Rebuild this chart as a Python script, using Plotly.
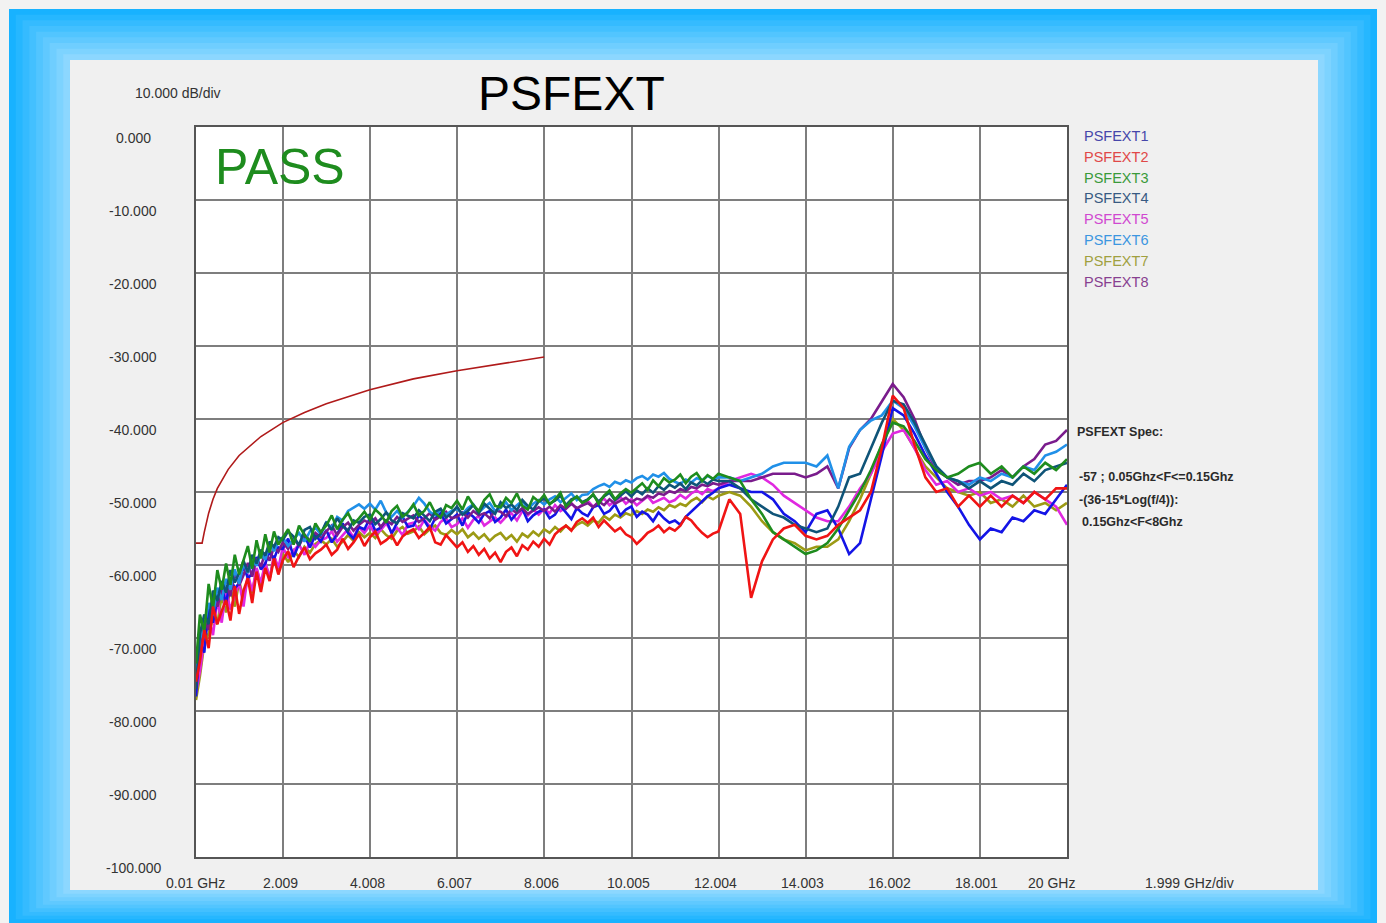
import plotly.graph_objects as go

# ---------------- data ----------------
freq_ghz = [0.01, 0.1, 0.2, 0.3, 0.4, 0.5, 0.6, 0.7, 0.8, 0.9,
            1.0, 1.1, 1.2, 1.3, 1.4, 1.5, 1.6, 1.7, 1.8, 1.9,
            2.0, 2.125, 2.25, 2.375, 2.5, 2.625, 2.75, 2.875,
            3.0, 3.125, 3.25, 3.375, 3.5, 3.625, 3.75, 3.875,
            4.0, 4.125, 4.25, 4.375, 4.5, 4.625, 4.75, 4.875,
            5.0, 5.125, 5.25, 5.375, 5.5, 5.625, 5.75, 5.875,
            6.0, 6.125, 6.25, 6.375, 6.5, 6.625, 6.75, 6.875,
            7.0, 7.125, 7.25, 7.375, 7.5, 7.625, 7.75, 7.875,
            8.0, 8.125, 8.25, 8.375, 8.5, 8.625, 8.75, 8.875,
            9.0, 9.125, 9.25, 9.375, 9.5, 9.625, 9.75, 9.875,
            10.0, 10.125, 10.25, 10.375, 10.5, 10.625, 10.75, 10.875,
            11.0, 11.125, 11.25, 11.375, 11.5, 11.625, 11.75, 11.875,
            12.0,
            12.25, 12.5, 12.75,
            13.0, 13.25, 13.5, 13.75, 14.0, 14.25, 14.5, 14.75,
            15.0, 15.25, 15.5, 15.75, 16.0, 16.25, 16.5, 16.75,
            17.0, 17.25, 17.5, 17.75, 18.0, 18.25, 18.5, 18.75,
            19.0, 19.25, 19.5, 19.75, 20.0]

# PSFEXT1 (blue)
psfext1 = ([-78, -70.5, -72.0, -65.8, -67.9, -64.6, -62.9, -65.4, -61.7, -63.2,
            -62.5, -60.1, -61.8, -61.2, -58.9, -60.6, -59.8, -58.1, -59.2, -57.6]
           + [-57.8, -56.4, -58.9, -57.1, -56.0, -57.6, -55.9, -56.8,
              -55.2, -56.9, -55.8, -54.3, -55.6, -56.4, -54.8, -55.1,
              -53.6, -55.3, -54.9, -53.8, -55.7, -54.2, -53.4, -54.8,
              -54.6, -53.2, -53.9, -55.1, -53.6, -52.9, -54.3, -53.7,
              -53.1, -54.6, -52.8, -53.4, -54.2, -53.0, -52.6, -54.1,
              -53.5, -52.4, -53.8, -52.9, -52.3, -54.0, -53.2, -52.7,
              -52.4, -53.6, -53.1, -51.9, -52.8, -53.7, -52.2, -52.9,
              -53.3, -52.1, -51.8, -53.0, -52.6, -51.7, -53.2, -52.4,
              -52.0, -53.4, -52.7, -53.1, -54.0, -52.8, -53.6, -54.2,
              -53.9, -54.5, -53.4, -52.7, -52.0, -51.2, -50.6, -50.1,
              -49.5]
           + [-49, -49.5, -50,
              -50, -51, -53, -54, -55.5, -53, -52.5, -55,
              -58.5, -57, -51, -45, -38.5, -39.5, -42, -45,
              -47.5, -50, -52, -54.5, -56.5, -55, -55.5, -53.5,
              -54, -52.5, -53, -51, -49])

# PSFEXT2 (red)
psfext2 = ([-76, -73.2, -68.9, -71.4, -65.7, -68.1, -66.3, -64.8, -67.6, -62.9,
            -66.7, -63.5, -61.8, -65.2, -60.9, -63.7, -60.4, -62.2, -59.1, -61.3]
           + [-59.4, -58.1, -60.3, -58.8, -57.6, -59.2, -58.4, -57.9,
              -57.2, -58.6, -57.9, -56.4, -57.8, -56.9, -55.8, -57.4,
              -56.2, -55.4, -57.1, -56.6, -55.9, -57.3, -56.1, -55.5,
              -55.1, -56.3, -55.6, -54.8, -56.9, -57.2, -55.9, -56.8,
              -57.6, -56.9, -58.2, -57.4, -58.6, -57.8, -59.1, -58.3,
              -59.6, -58.2, -57.6, -58.8, -57.3, -57.9, -56.8, -57.5,
              -56.4, -57.2, -55.8, -55.1, -54.6, -55.3, -54.1, -53.6,
              -54.2, -53.5, -54.8, -53.9, -54.6, -55.4, -54.9, -55.8,
              -56.2, -57.1, -56.4, -55.6, -55.2, -54.6, -55.5, -54.9,
              -55.3, -54.6, -53.4, -53.9, -54.8, -55.6, -56.2, -55.7,
              -55.4]
           + [-51, -53, -64.5,
              -59.5, -56.5, -55, -54.5, -56, -56.5, -56, -54.5,
              -53.5, -52.5, -50, -44, -36.8, -38.5, -43.5, -48,
              -50, -49.5, -52, -50.5, -52, -50.5, -52, -50.5,
              -51.5, -50, -51, -49.5, -49.5])

# PSFEXT3 (green)
psfext3 = ([-73.5, -66.8, -69.2, -62.6, -65.9, -60.7, -63.4, -59.8, -62.7, -58.6,
            -61.3, -59.2, -57.4, -60.5, -56.6, -59.1, -55.8, -58.3, -55.4, -57.2]
           + [-56.3, -55.1, -57.2, -54.6, -55.9, -56.8, -54.3, -55.5,
              -54.6, -53.2, -55.1, -53.8, -52.9, -54.4, -53.6, -52.7,
              -53.8, -52.4, -53.1, -54.2, -52.6, -51.9, -53.4, -52.8,
              -51.7, -53.2, -52.6, -51.4, -52.9, -53.5, -51.8, -52.2,
              -51.2, -52.4, -50.6, -51.8, -52.6, -51.1, -50.3, -51.9,
              -52.1, -50.8, -51.5, -50.2, -51.9, -52.4, -50.7, -51.3,
              -50.4, -51.7, -51.0, -50.1, -52.0, -51.2, -50.6, -51.5,
              -51.1, -50.3, -51.6, -50.5, -49.8, -51.0, -50.2, -49.6,
              -50.1, -49.4, -48.8, -49.7, -48.4, -49.2, -48.1, -48.7,
              -48.3, -47.6, -48.8, -47.9, -47.4, -48.5, -47.7, -48.2,
              -47.5]
           + [-48, -48.5, -51,
              -53, -55.5, -56.5, -57.5, -58.5, -58, -57, -55,
              -52.5, -50, -47, -43.5, -40.5, -41, -43, -45.5,
              -47, -48, -47.5, -46.5, -46, -47.5, -46.5, -48,
              -46.5, -47.5, -46, -47, -45.5])

# PSFEXT4 (dark teal)
psfext4 = ([-77, -69.4, -66.8, -68.1, -63.5, -64.9, -62.2, -63.8, -60.7, -62.4,
            -61.1, -59.4, -61.0, -58.6, -59.8, -57.9, -58.7, -56.8, -57.5, -56.2]
           + [-56.6, -55.4, -56.1, -57.3, -55.2, -54.8, -56.4, -55.7,
              -54.1, -55.2, -53.6, -54.7, -55.3, -53.9, -54.2, -53.4,
              -53.1, -54.4, -53.7, -52.8, -53.9, -54.3, -52.9, -53.3,
              -53.6, -52.5, -53.2, -54.0, -52.7, -52.3, -53.5, -52.9,
              -52.0, -53.1, -52.6, -51.8, -52.9, -51.6, -52.3, -53.0,
              -51.4, -52.2, -51.7, -52.5, -51.1, -51.9, -52.4, -51.3,
              -50.9, -51.6, -51.2, -50.5, -51.8, -51.0, -50.7, -51.4,
              -51.0, -50.4, -51.3, -50.6, -50.1, -51.1, -50.5, -49.9,
              -50.6, -49.8, -50.3, -49.5, -50.1, -49.2, -49.7, -49.0,
              -49.4, -48.8, -49.6, -48.7, -49.1, -48.4, -48.9, -48.3,
              -48.5]
           + [-48.5, -49.5, -51,
              -52, -53, -53.5, -54.5, -55, -55.5, -55, -52,
              -48, -47.5, -44, -40.5, -37.5, -38, -40.5, -43.5,
              -46.5, -48, -48.5, -49.5, -48.5, -49.5, -48.5, -49,
              -47.5, -48.5, -47, -46.5, -46])

# PSFEXT5 (magenta)
psfext5 = ([-77.5, -74.6, -70.3, -67.2, -69.6, -64.8, -67.9, -63.4, -66.1, -64.2,
            -62.3, -65.7, -61.2, -63.6, -60.4, -62.5, -59.6, -61.8, -58.7, -60.4]
           + [-57.6, -58.9, -58.1, -57.2, -58.6, -56.8, -57.5, -56.6,
              -56.3, -55.4, -56.8, -55.9, -55.1, -56.2, -54.8, -55.6,
              -54.6, -55.8, -55.2, -54.3, -55.5, -54.9, -55.9, -54.4,
              -54.2, -55.1, -53.8, -54.7, -55.3, -54.1, -53.6, -54.8,
              -54.4, -53.6, -54.9, -53.8, -53.3, -54.6, -54.1, -53.5,
              -54.2, -53.4, -52.9, -53.9, -52.6, -53.2, -52.4, -53.1,
              -52.3, -52.9, -51.8, -52.6, -52.1, -51.5, -52.4, -51.7,
              -51.2, -52.0, -51.5, -50.9, -51.8, -51.3, -50.7, -51.6,
              -51.0, -51.8, -51.2, -50.6, -51.5, -51.1, -50.8, -51.4,
              -51.1, -50.4, -50.9, -50.2, -49.8, -50.3, -49.6, -49.9,
              -49.5]
           + [-48.5, -48, -47.5,
              -48, -49, -50.5, -51.5, -52.5, -53.5, -54, -54,
              -52, -49.5, -47.5, -44.5, -42, -41.5, -44, -47,
              -49, -48.5, -50, -49.5, -50.5, -50, -51, -50.5,
              -51.5, -50, -51, -52, -54.5])

# PSFEXT6 (light blue)
psfext6 = ([-75, -70.1, -68.4, -65.2, -66.9, -63.1, -64.8, -61.9, -63.4, -60.6,
            -62.6, -59.8, -61.1, -59.2, -60.1, -58.4, -59.3, -57.2, -58.1, -56.8]
           + [-56.2, -57.4, -56.5, -55.6, -56.8, -55.4, -54.9, -55.8,
              -54.2, -54.9, -53.4, -53.9, -52.6, -52.1, -51.7, -52.3,
              -51.6, -52.4, -51.2, -52.8, -53.4, -52.6, -53.5, -52.7,
              -51.9, -50.8, -51.6, -52.7, -53.2, -52.4, -53.1, -52.6,
              -52.3, -53.0, -52.2, -51.7, -52.8, -52.1, -51.5, -52.6,
              -52.2, -51.4, -52.5, -51.8, -51.2, -52.3, -51.6, -51.1,
              -51.7, -51.0, -50.6, -51.4, -50.8, -50.2, -51.1, -50.4,
              -50.3, -49.6, -49.2, -48.9, -49.3, -48.6, -48.9, -48.4,
              -48.7, -48.1, -47.8, -48.3, -47.6, -47.9, -47.4, -48.2,
              -48.6, -48.9, -48.3, -48.7, -48.1, -48.4, -47.8, -48.2,
              -48.0]
           + [-48, -48.5, -48,
              -47.5, -46.5, -46, -46, -46, -46.5, -45, -49.5,
              -43.8, -41.5, -40.2, -39.5, -37.5, -38.5, -41, -44,
              -46.5, -48, -48.5, -49, -48, -48.5, -47.5, -48,
              -46.5, -47, -45, -44.5, -43.5])

# PSFEXT7 (olive)
psfext7 = ([-78.5, -75.2, -70.8, -69.4, -67.3, -68.1, -64.2, -66.5, -63.1, -65.7,
            -62.2, -64.6, -61.7, -63.9, -60.5, -62.8, -59.7, -61.9, -58.8, -60.6]
           + [-58.4, -59.6, -58.0, -58.9, -57.5, -58.3, -57.1, -56.6,
              -57.2, -56.4, -57.5, -56.8, -55.9, -56.7, -55.5, -56.2,
              -55.6, -56.3, -55.1, -55.9, -56.4, -55.3, -54.8, -55.7,
              -55.4, -54.7, -55.8, -55.1, -54.6, -55.6, -55.9, -55.2,
              -55.8, -55.1, -56.2, -55.6, -56.4, -55.8, -56.7, -56.0,
              -55.6, -56.5, -55.9, -56.8, -55.7, -56.2, -55.4, -56.0,
              -55.1, -55.6, -54.8, -55.4, -54.6, -55.2, -54.5, -54.1,
              -54.6, -53.9, -54.2, -53.3, -53.8, -53.1, -53.5, -52.9,
              -53.2, -52.6, -53.0, -52.4, -52.7, -52.1, -52.5, -51.8,
              -52.1, -51.6, -51.9, -51.2, -50.8, -51.4, -50.6, -51.0,
              -50.5]
           + [-50, -50.5, -52,
              -54, -55.5, -56.5, -57, -58, -57.5, -57.5, -56.5,
              -54, -51, -47.5, -43.5, -40, -41.5, -44, -46.5,
              -48, -49.5, -50, -50.5, -50, -51.5, -51, -52,
              -50.5, -52, -51.5, -52.5, -51.5])

# PSFEXT8 (purple)
psfext8 = ([-76.5, -71.8, -67.6, -68.9, -64.2, -65.7, -63.6, -62.8, -64.3, -60.9,
            -62.8, -61.4, -59.7, -61.6, -59.1, -60.2, -58.3, -59.4, -57.5, -58.2]
           + [-56.9, -57.8, -56.3, -57.4, -55.8, -56.7, -55.6, -56.2,
              -55.4, -54.6, -55.9, -54.8, -54.2, -55.3, -54.5, -53.9,
              -54.3, -53.6, -54.8, -53.9, -54.4, -53.4, -54.1, -53.7,
              -53.2, -54.1, -53.6, -52.9, -53.8, -53.3, -52.7, -53.6,
              -53.4, -52.8, -53.5, -52.6, -53.2, -52.9, -53.6, -52.5,
              -52.7, -53.3, -52.4, -52.9, -52.2, -53.0, -52.5, -52.1,
              -52.6, -52.0, -52.7, -51.8, -52.3, -51.6, -52.2, -51.9,
              -51.5, -52.1, -51.3, -51.8, -51.0, -51.6, -51.2, -50.8,
              -51.4, -50.9, -51.1, -50.5, -50.8, -50.2, -50.4, -49.9,
              -50.1, -49.6, -49.9, -49.3, -49.5, -49.0, -49.2, -48.8,
              -49.0]
           + [-48.5, -48.5, -48.5,
              -48, -47.5, -47.5, -47.5, -48, -47.5, -46.5, -49.5,
              -44, -41.5, -40, -37.5, -35.2, -37, -40, -44,
              -47, -48, -49, -48.5, -48.5, -48, -47, -48,
              -46.5, -45.5, -43.5, -43, -41.5])

spec_freq_ghz = [0.01, 0.15, 0.2, 0.25, 0.3, 0.4, 0.5, 0.75, 1.0, 1.5, 2.0, 2.5, 3.0, 4.0, 5.0, 6.0, 7.0, 8.0]
spec_db = [-57, -57, -55.5, -54.1, -52.9, -51.0, -49.5, -46.9, -45.0, -42.4, -40.5, -39.1, -37.9,
           -36.0, -34.5, -33.4, -32.4, -31.5]

series_names = ["PSFEXT1", "PSFEXT2", "PSFEXT3", "PSFEXT4", "PSFEXT5", "PSFEXT6", "PSFEXT7", "PSFEXT8"]
series_values = [psfext1, psfext2, psfext3, psfext4, psfext5, psfext6, psfext7, psfext8]

x_tick_vals = [0.01, 2.009, 4.008, 6.007, 8.006, 10.005, 12.004, 14.003, 16.002, 18.001, 20.0]
x_tick_text = ["0.01 GHz", "2.009", "4.008", "6.007", "8.006", "10.005", "12.004", "14.003",
               "16.002", "18.001", "20 GHz"]
y_tick_vals = [0, -10, -20, -30, -40, -50, -60, -70, -80, -90, -100]
y_tick_text = ["0.000", "-10.000", "-20.000", "-30.000", "-40.000", "-50.000", "-60.000",
               "-70.000", "-80.000", "-90.000", "-100.000"]

# ---------------- styling ----------------
line_colors = ["#1414E6", "#F01414", "#1E8C1E", "#0F5478", "#E028E0", "#2090E8", "#9C9A14", "#7A1C8C"]
legend_colors = ["#4646AA", "#E04848", "#3A9A3A", "#385A82", "#D048D0", "#3C96E0", "#A0A040", "#884090"]
draw_order = [6, 4, 0, 7, 5, 3, 2, 1]

for arr in series_values:
    assert len(arr) == len(freq_ghz), len(arr)

W, H = 1386, 923
PL, PR, PT, PB = 196, 1067, 127, 857


def px(xp):
    return (xp - PL) / (PR - PL)


def py(yp):
    return (PB - yp) / (PB - PT)


FONT = "Liberation Sans, Arial, sans-serif"

fig = go.Figure()

for i in draw_order:
    fig.add_trace(go.Scatter(x=freq_ghz, y=series_values[i], mode="lines", name=series_names[i],
                             line=dict(color=line_colors[i], width=2.6), showlegend=False,
                             hoverinfo="skip"))

fig.add_trace(go.Scatter(x=spec_freq_ghz, y=spec_db, mode="lines", name="PSFEXT Spec",
                         line=dict(color="#B01A1A", width=1.6, shape="linear"),
                         showlegend=False, hoverinfo="skip"))

# background frame (blue gradient border + gray panel)
shapes = []
outer = (9, 9, 1377, 923)
inner = (70, 60, 1318, 890)
c0 = (0x18, 0xB2, 0xFF)
c1 = (0x9A, 0xDC, 0xFF)
N = 9
for k in range(N):
    t = k / N
    x0 = outer[0] + t * (inner[0] - outer[0])
    y0 = outer[1] + t * (inner[1] - outer[1])
    x1 = outer[2] + t * (inner[2] - outer[2])
    y1 = outer[3] + t * (inner[3] - outer[3])
    col = "#%02X%02X%02X" % tuple(int(round(a + t * (b - a))) for a, b in zip(c0, c1))
    shapes.append(dict(type="rect", xref="paper", yref="paper", layer="below",
                       x0=px(x0), x1=px(x1), y0=py(y1 + 40 if k == 0 else y1), y1=py(y0),
                       line=dict(width=0), fillcolor=col))
shapes.append(dict(type="rect", xref="paper", yref="paper", layer="below",
                   x0=px(inner[0]), x1=px(inner[2]), y0=py(inner[3]), y1=py(inner[1]),
                   line=dict(width=0), fillcolor="#F0F0F0"))
shapes.append(dict(type="rect", xref="x domain", yref="y domain", layer="below",
                   x0=0, x1=1, y0=0, y1=1, line=dict(width=0), fillcolor="#FFFFFF"))

annotations = []
annotations.append(dict(text="PSFEXT", xref="paper", yref="paper", x=px(571), y=py(93),
                        showarrow=False, xanchor="center", yanchor="middle",
                        font=dict(family=FONT, size=48, color="#000000")))
annotations.append(dict(text="10.000 dB/div", xref="paper", yref="paper", x=px(178), y=py(93),
                        showarrow=False, xanchor="center", yanchor="middle",
                        font=dict(family=FONT, size=14, color="#333333")))
for v, t in zip(y_tick_vals, y_tick_text):
    annotations.append(dict(text=t, xref="paper", yref="y", x=px(133), y=v, yshift=-11,
                            showarrow=False, xanchor="center", yanchor="middle",
                            font=dict(family=FONT, size=14, color="#333333")))
for i, (v, t) in enumerate(zip(x_tick_vals, x_tick_text)):
    last = i == len(x_tick_vals) - 1
    annotations.append(dict(text=t, xref="x", yref="paper", x=v, y=py(883),
                            xshift=10 if last else (-1 if i == 0 else -3),
                            showarrow=False, xanchor="right" if last else "center",
                            yanchor="middle",
                            font=dict(family=FONT, size=14, color="#333333")))
annotations.append(dict(text="1.999 GHz/div", xref="paper", yref="paper", x=px(1189), y=py(883),
                        showarrow=False, xanchor="center", yanchor="middle",
                        font=dict(family=FONT, size=14, color="#333333")))
for i, (name, col) in enumerate(zip(series_names, legend_colors)):
    annotations.append(dict(text=name, xref="paper", yref="paper", x=px(1082), y=py(136 + 20.8 * i),
                            showarrow=False, xanchor="left", yanchor="middle",
                            font=dict(family=FONT, size=14.5, color=col)))
annotations.append(dict(text="PASS", xref="paper", yref="paper", x=px(213), y=py(167),
                        showarrow=False, xanchor="left", yanchor="middle",
                        font=dict(family=FONT, size=50, color="#1E8C1E")))
spec_lines = [("<b>PSFEXT Spec:</b>", 1075, 432),
              ("<b>-57 ; 0.05Ghz&lt;F&lt;=0.15Ghz</b>", 1077, 477),
              ("<b>-(36-15*Log(f/4)):</b>", 1077, 500),
              ("<b>0.15Ghz&lt;F&lt;8Ghz</b>", 1080, 522)]
for t, xx, yy in spec_lines:
    annotations.append(dict(text=t, xref="paper", yref="paper", x=px(xx), y=py(yy),
                            showarrow=False, xanchor="left", yanchor="middle",
                            font=dict(family=FONT, size=12.5, color="#2A2A2A")))

fig.update_layout(
    width=W, height=H,
    margin=dict(l=PL, r=W - PR, t=PT, b=H - PB, pad=0),
    paper_bgcolor="#F2F2F2", plot_bgcolor="#FFFFFF",
    shapes=shapes, annotations=annotations, showlegend=False,
    xaxis=dict(range=[0.01, 20.0], tickvals=x_tick_vals, showticklabels=False,
               showgrid=True, gridcolor="#7E7E7E", gridwidth=1.6, zeroline=False,
               showline=True, linecolor="#555555", linewidth=1.6, mirror=True, ticks=""),
    yaxis=dict(range=[-100, 0], tickvals=y_tick_vals, showticklabels=False,
               showgrid=True, gridcolor="#7E7E7E", gridwidth=1.6, zeroline=False,
               showline=True, linecolor="#555555", linewidth=1.6, mirror=True, ticks=""),
)

fig.write_html("out.html", config={"displayModeBar": False},
               post_script="document.body.style.margin='0px';document.body.style.overflow='hidden';")
